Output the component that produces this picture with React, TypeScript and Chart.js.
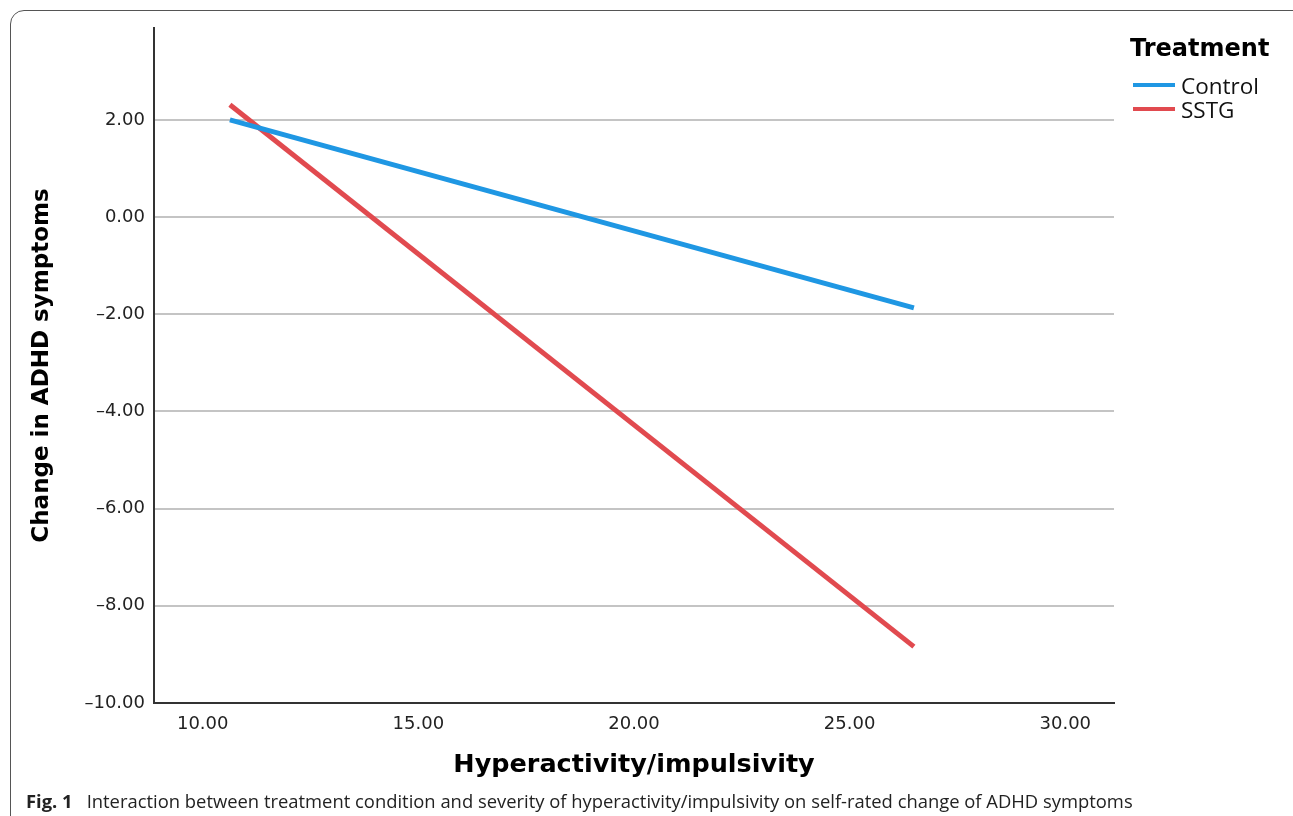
import React, { useEffect, useRef } from "react";
import { Chart, registerables } from "chart.js";

Chart.register(...registerables);

const seriesNames = ["Control", "SSTG"];
const seriesColors = ["#1f97e3", "#e14a4f"];
const controlX = [10.63, 26.49];
const controlY = [2.0, -1.87];
const sstgX = [10.63, 26.49];
const sstgY = [2.31, -8.84];
const xTicks = [10, 15, 20, 25, 30];
const yTicks = [-10, -8, -6, -4, -2, 0, 2];
const xRange = [8.87, 31.13];
const yRange = [-10, 3.89];

const fmt = (v: number) => {
  const s = Math.abs(v).toFixed(2);
  return v < 0 ? "\u2013" + s : s;
};

export default function App() {
  const ref = useRef<HTMLCanvasElement | null>(null);

  useEffect(() => {
    if (!ref.current) return;
    const toPts = (xs: number[], ys: number[]) => xs.map((x, i) => ({ x, y: ys[i] }));
    const chart = new Chart(ref.current, {
      type: "line",
      data: {
        datasets: [
          {
            label: seriesNames[0],
            data: toPts(controlX, controlY),
            borderColor: seriesColors[0],
            backgroundColor: seriesColors[0],
            borderWidth: 5,
            pointRadius: 0,
            tension: 0,
          },
          {
            label: seriesNames[1],
            data: toPts(sstgX, sstgY),
            borderColor: seriesColors[1],
            backgroundColor: seriesColors[1],
            borderWidth: 5,
            pointRadius: 0,
            tension: 0,
          },
        ],
      },
      options: {
        responsive: false,
        animation: false,
        devicePixelRatio: 1,
        layout: { padding: { left: 0, right: 179, top: 28, bottom: 0 } },
        plugins: {
          legend: { display: false },
          tooltip: { enabled: false },
        },
        scales: {
          x: {
            type: "linear",
            min: xRange[0],
            max: xRange[1],
            afterBuildTicks: (s: any) => {
              s.ticks = xTicks.map((v) => ({ value: v }));
            },
            afterFit: (s: any) => {
              s.height = 87;
            },
            grid: { display: false, drawTicks: false },
            border: { display: true, color: "#333", width: 2 },
            ticks: {
              padding: 11,
              color: "#222",
              font: { family: "DejaVu Sans", size: 18 },
              callback: (v: any) => fmt(Number(v)),
              maxRotation: 0,
            },
            title: {
              display: true,
              text: "Hyperactivity/impulsivity",
              color: "#000",
              font: { family: "DejaVu Sans", size: 25.5, weight: "bold" },
              padding: { top: 0, bottom: 9 },
            },
          },
          y: {
            type: "linear",
            min: yRange[0],
            max: yRange[1],
            afterBuildTicks: (s: any) => {
              s.ticks = yTicks.map((v) => ({ value: v }));
            },
            afterFit: (s: any) => {
              s.width = 154;
            },
            grid: { display: true, drawTicks: false, color: "#c4c4c4", lineWidth: 2 },
            border: { display: true, color: "#333", width: 2 },
            ticks: {
              padding: 9,
              color: "#222",
              font: { family: "DejaVu Sans", size: 18 },
              callback: (v: any) => fmt(Number(v)),
            },
            title: {
              display: true,
              text: "Change in ADHD symptoms",
              color: "#000",
              font: { family: "DejaVu Sans", size: 23, weight: "bold" },
              padding: { top: 28, bottom: 0 },
            },
          },
        },
      },
    });
    return () => chart.destroy();
  }, []);

  return (
    <div
      style={{
        position: "fixed",
        left: 0,
        top: 0,
        width: 1293,
        height: 816,
        overflow: "hidden",
        background: "#fff",
      }}
    >
      <div
        style={{
          position: "absolute",
          left: 10,
          top: 10,
          width: 1300,
          height: 900,
          border: "1.5px solid #555",
          borderRadius: 14,
        }}
      />
      <canvas
        ref={ref}
        width={1293}
        height={790}
        style={{ position: "absolute", left: 0, top: 0, width: 1293, height: 790 }}
      />
      <div
        style={{
          position: "absolute",
          left: 1130,
          top: 33,
          fontFamily: "DejaVu Sans",
          fontWeight: "bold",
          fontSize: 24,
          lineHeight: "30px",
          color: "#000",
        }}
      >
        Treatment
      </div>
      {seriesNames.map((n, i) => (
        <div
          key={n}
          style={{
            position: "absolute",
            left: 1133,
            top: 71 + i * 24,
            height: 28,
            display: "flex",
            alignItems: "center",
            fontFamily: "Open Sans",
            fontSize: 22.5,
            color: "#111",
          }}
        >
          <span
            style={{
              display: "inline-block",
              width: 42,
              height: 4,
              background: seriesColors[i],
              marginRight: 6,
            }}
          />
          {n}
        </div>
      ))}
      <div
        style={{
          position: "absolute",
          left: 26,
          top: 788,
          fontFamily: "Open Sans",
          fontSize: 18.4,
          color: "#222",
          whiteSpace: "nowrap",
        }}
      >
        <b>Fig. 1</b>
        <span style={{ marginLeft: 14 }}>
          Interaction between treatment condition and severity of hyperactivity/impulsivity on self-rated change of ADHD symptoms
        </span>
      </div>
    </div>
  );
}
